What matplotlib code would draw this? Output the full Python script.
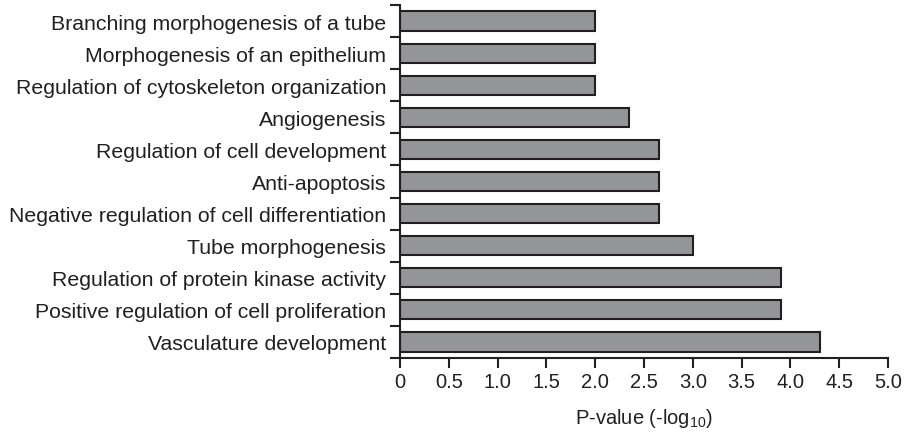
import matplotlib
matplotlib.use('Agg')
import matplotlib.pyplot as plt
import numpy as np

plt.rcParams['font.family'] = ['Liberation Sans', 'DejaVu Sans']
plt.rcParams['mathtext.fontset'] = 'custom'
plt.rcParams['mathtext.rm'] = 'Liberation Sans'
plt.rcParams['mathtext.it'] = 'Liberation Sans'

# top to bottom as in the figure
terms = ['Branching morphogenesis of a tube',
         'Morphogenesis of an epithelium',
         'Regulation of cytoskeleton organization',
         'Angiogenesis',
         'Regulation of cell development',
         'Anti-apoptosis',
         'Negative regulation of cell differentiation',
         'Tube morphogenesis',
         'Regulation of protein kinase activity',
         'Positive regulation of cell proliferation',
         'Vasculature development']
pvals = [2.0, 2.0, 2.0, 2.35, 2.65, 2.65, 2.65, 3.0, 3.9, 3.9, 4.3]
xticks = [0, 0.5, 1.0, 1.5, 2.0, 2.5, 3.0, 3.5, 4.0, 4.5, 5.0]
xticklabels = ['0', '0.5', '1.0', '1.5', '2.0', '2.5', '3.0', '3.5', '4.0', '4.5', '5.0']

ink = '#231f20'

fig = plt.figure(figsize=(9.15, 4.35), dpi=100)
ax = fig.add_axes([0.4372, 0.1747, 0.5333, 0.8115])

y = np.arange(len(terms))[::-1]
ax.barh(y, pvals, height=0.6, color='#939598', edgecolor=ink, linewidth=1.5)

ax.set_xlim(0, 5)
ax.set_ylim(-0.5, len(terms) - 0.5)
ax.set_xticks(xticks)
ax.set_xticklabels(xticklabels, fontsize=14.5, color=ink)
ax.set_yticks(y)
ax.set_yticklabels(terms, fontsize=15.3, color=ink)
ax.set_yticks(np.arange(len(terms) + 1) - 0.5, minor=True)
ax.tick_params(axis='y', which='major', length=0, pad=10)
ax.tick_params(axis='y', which='minor', length=7, width=1.5, color=ink, direction='out')
ax.tick_params(axis='x', length=7, width=1.5, color=ink, direction='out', pad=3)

for s in ['top', 'right']:
    ax.spines[s].set_visible(False)
for s in ['left', 'bottom']:
    ax.spines[s].set_linewidth(1.5)
    ax.spines[s].set_color(ink)

ax.set_xlabel(r'P-value (-log$_{10}$)', fontsize=14.5, color=ink, labelpad=11)

fig.savefig('out.png', dpi=100)
